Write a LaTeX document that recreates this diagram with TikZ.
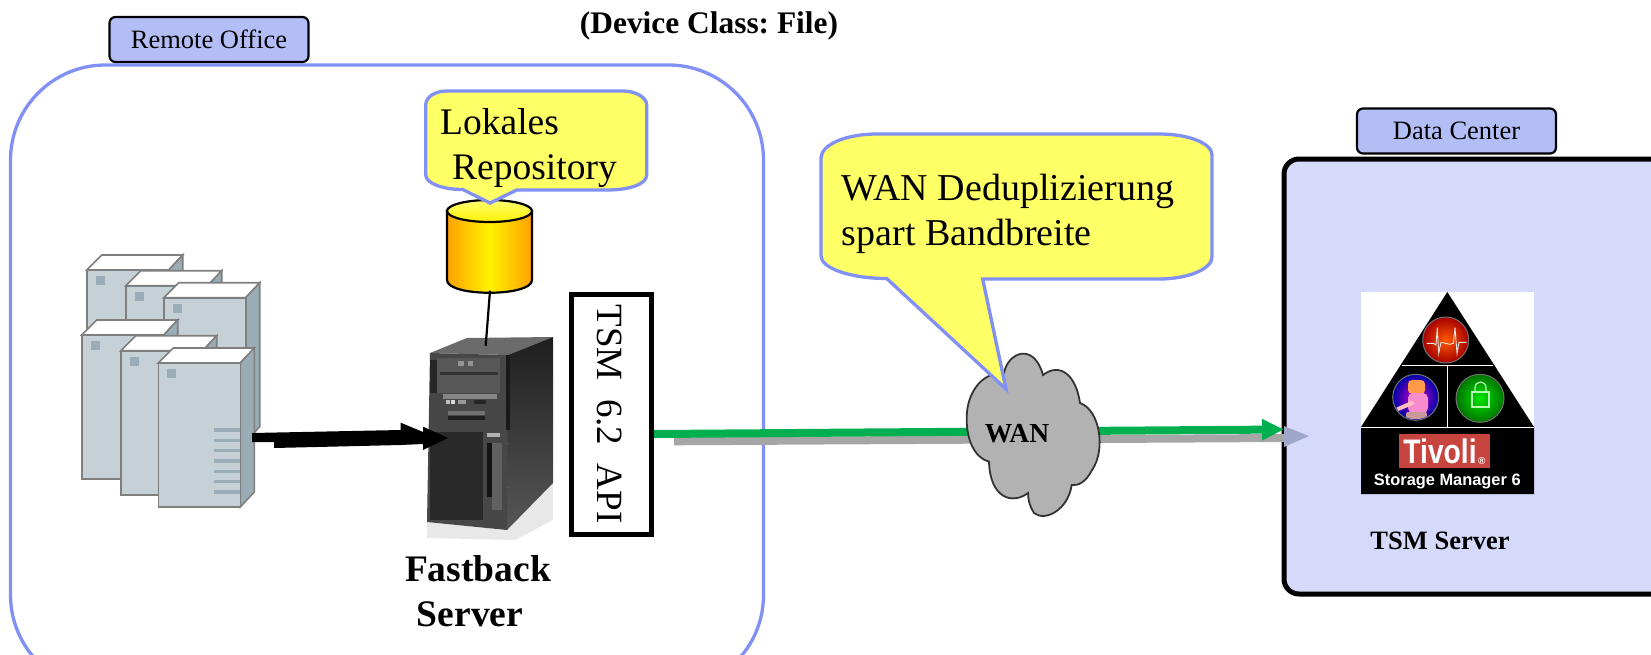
\documentclass[tikz,border=0pt]{standalone}
\usepackage{fontspec}
\setmainfont{Liberation Serif}
\newfontfamily\arialf{Liberation Sans}
\usetikzlibrary{arrows.meta,shadings}
\definecolor{bluel}{HTML}{8090F5}
\definecolor{labelb}{HTML}{B3BEF7}
\definecolor{panel}{HTML}{D5DAFA}
\definecolor{callout}{HTML}{FFFF66}
\definecolor{srvfront}{HTML}{C5D1D6}
\definecolor{srvside}{HTML}{9AADB6}
\definecolor{srvedge}{HTML}{7F7F7F}
\definecolor{wangreen}{HTML}{00B050}
\definecolor{cylor}{HTML}{FFA000}
\definecolor{cylye}{HTML}{FFF200}
\definecolor{shadowhead}{HTML}{9FA8C8}
\definecolor{tivred}{HTML}{C8443F}
\newcommand{\fs}[1]{\fontsize{#1}{#1}\selectfont}
\newcommand{\srvbox}[3]{% left, top, height
  \fill[white,draw=srvedge,line width=1.6] (#1,#2) -- ++(15,-15) -- ++(81,0) -- ++(-14,15) -- cycle;
  \fill[srvside,draw=srvedge,line width=1.6] (#1+82,#2) -- ++(14,-15) -- ++(0,#3) -- ++(-14,15) -- cycle;
  \fill[srvfront,draw=srvedge,line width=1.6] (#1,#2) rectangle ++(82,#3);
  \fill[srvside] (#1+9,#2+6) rectangle ++(9,9);
}
\tikzset{
  x=1pt,y=-1pt,
  officebox/.style={draw=bluel,line width=3.3,rounded corners=95},
  tag/.style={draw=black,line width=2.2,fill=labelb,rounded corners=6,minimum width=199,minimum height=45,inner sep=0,font=\fs{26.5}},
  balloon/.style={draw=bluel,line width=3.3,fill=callout,line join=miter},
  big/.style={font=\fs{37.5},inner sep=0,anchor=base west},
  bigbold/.style={font=\fs{37.5}\bfseries,inner sep=0,anchor=base},
  cloudtxt/.style={font=\fs{27.5}\bfseries,inner sep=0},
}
\begin{document}
\frenchspacing
\begin{tikzpicture}
\useasboundingbox (0,0) rectangle (1651,654);
\begin{scope}
\clip (0,0) rectangle (1651,654);
% panels
\draw[officebox] (10.5,65) rectangle (763.5,690);
\fill[panel,draw=black,line width=5,rounded corners=15] (1284,159) rectangle (1700,594);

% servers
\srvbox{86.7}{270}{144}
\srvbox{125.7}{285.7}{144}
\srvbox{163.7}{297.7}{144}
\srvbox{81.7}{335}{144}
\srvbox{120.7}{350.7}{144}
\srvbox{158.3}{363}{144}
\foreach \yy in {430,440.3,450.7,461,471.3,481.7,492}
  \fill[srvside] (214,\yy-1.6) rectangle (240.3,\yy+1.6);

% tower
\fill[black!9] (427,522) -- (507,530) -- (553,483) -- (553,520) -- (515,540) -- (427,538) -- cycle;
\fill[black!58] (430,353) -- (467,338) -- (553,337) -- (508,355) -- cycle;
\shade[top color=black!88,bottom color=black!66] (508,355) -- (553,337) -- (553,483) -- (507,530) -- cycle;
\fill[black!72] (430,353) -- (508,355) -- (507,530) -- (427,522) -- cycle;
\fill[black!90] (506,355) rectangle (510,430);
\fill[black!66] (437,358) rectangle (500,393);
\fill[black!85] (430,360) rectangle (437,393);
\fill[black!80] (440,372) rectangle (498,375);
\fill[black!42] (458,361) rectangle (464,366);
\fill[black!42] (468,361) rectangle (473,366);
\fill[black!48] (443,394) rectangle (497,399);
\fill[black!25] (446,400) rectangle (450,404);
\fill[black!15] (451,400) rectangle (455,404);
\fill[black!40] (458,400) rectangle (466,404);
\fill[black!85] (474,400) rectangle (486,404);
\fill[black!55] (448,411) rectangle (485,415);
\fill[black!88] (448,416) rectangle (485,420);
\fill[black!84] (430,432) rectangle (483,520);
\fill[black!92] (487,443) rectangle (492,497);
\fill[black!30] (487,433) rectangle (500,437);
\fill[black!62] (492,443) rectangle (502,510);

% cylinder
\draw[line width=2.2,left color=cylor,right color=cylor,middle color=cylye]
  (447,211) -- (447,280) .. controls (447,297) and (532,297) .. (532,280) -- (532,211) -- cycle;
\draw[line width=2.2,top color=yellow!55!white,bottom color=yellow!90!orange] (489.5,211) ellipse (42.5 and 11);
\coordinate (cylbot) at (490,290.7);
\coordinate (towertop) at (485.7,345.7);
\draw[line width=2.2] (cylbot) -- (towertop);

% balloon on the cylinder
\path[balloon] (462.7,189.5) -- (490,203) -- (516.7,190) -- (606.7,190)
  .. controls (630,190) and (646.7,184) .. (646.7,175) -- (646.7,105)
  .. controls (646.7,97) and (635,91) .. (623,91) -- (446.7,91)
  .. controls (435,91) and (425.7,97) .. (425.7,105) -- (425.7,175)
  .. controls (425.7,183) and (442,189.5) .. (462.7,189.5) -- cycle;

% connectors
\coordinate (shadowfrom) at (674,441.3);
\coordinate (shadowto) at (1284,438);
\draw[line width=8,draw=black!35] (shadowfrom) -- (shadowto);
\fill[shadowhead] (1284,426) -- (1309,436) -- (1284,447) -- cycle;
\node[draw=black,line width=5,fill=white,minimum width=80,minimum height=240,inner sep=0] (api) at (611.5,414.5) {};
\node[rotate=-90,font=\fs{37},inner sep=0] (apitxt) at (609,414) {TSM\ \ 6.2\ \ API};
\coordinate (dcleft) at (1284,429.5);
\draw[line width=8,draw=wangreen,-{Triangle[length=22pt,width=20pt]}] (api.east |- 0,434) -- (dcleft);

% cloud
\path[fill=black!30,draw=black!80,line width=1.8] (1004,373)
  .. controls (1008,352) and (1034,342) .. (1043,375)
  .. controls (1060,362) and (1076,375) .. (1080,403)
  .. controls (1100,410) and (1106,450) .. (1092,470)
  .. controls (1086,482) and (1078,486) .. (1071.7,485)
  .. controls (1068,510) and (1045,522) .. (1034,513)
  .. controls (1030,507) and (1028,500) .. (1028,493)
  .. controls (1012,505) and (990,498) .. (989,461.7)
  .. controls (975,458) and (966,440) .. (966.7,416.7)
  .. controls (967,395) and (980,372) .. (1004,373) -- cycle;
\node[cloudtxt] (wan) at (1017,434) {WAN};

% balloon on the cloud
\path[balloon] (886.7,278.5) -- (1006,389) -- (982.7,279) -- (1159,279)
  .. controls (1188,279) and (1212,269) .. (1212,257) -- (1212,155)
  .. controls (1212,143) and (1188,134) .. (1159,134) -- (877,134)
  .. controls (845,134) and (821,145) .. (821,158) -- (821,256)
  .. controls (821,268) and (850,278.5) .. (886.7,278.5) -- cycle;

% black arrow
\coordinate (arrowfrom) at (252,437.5);
\coordinate (arrowto) at (448,438);
\fill[black] (252,433) -- (400.7,430) -- (400.7,422.7) -- (423,432) -- (423,426.7) -- (448,438) -- (423,450) -- (423,444) -- (400.7,445) -- (274,448) -- (274,442) -- (252,442) -- cycle;

% logo
\fill[white] (1361,292) rectangle (1534,428);
\fill[black] (1447.3,292) -- (1534,427) -- (1534,494) -- (1361,494) -- (1361,427) -- cycle;
\draw[white,line width=1.2] (1402,365.7) -- (1493,365.7) (1361,427.3) -- (1534,427.3) (1447.3,365.7) -- (1447.3,427.3);
% red emblem
\shade[inner color=orange!70!red,outer color=red!65!black,draw=black!55,line width=1] (1445.7,340) circle (23);
\draw[white!90!black,line width=.9] (1426.7,343.3) -- (1433.3,343.3) -- (1436,345) -- (1437.3,327.7) -- (1438.7,353.3) -- (1441,342.3) -- (1450,344.3) -- (1453.3,343.3) -- (1455,327.7) -- (1457,353.3) -- (1459,342.3) -- (1466.7,342.3);
% purple emblem
\shade[inner color=magenta!60!violet,outer color=blue!65!black,draw=black!55,line width=1] (1415.7,397.3) circle (23);
\begin{scope}
\clip (1415.7,397.3) circle (22);
\fill[orange!60!pink,rounded corners=4] (1408,380) rectangle (1425,394);
\fill[magenta!45!white,rounded corners=5] (1408,393) rectangle (1428,413);
\draw[pink,line width=4,line cap=round] (1398,409) -- (1412,403);
\fill[pink!80!black,rounded corners=2] (1406,412) rectangle (1427,419);
\end{scope}
% green emblem
\shade[inner color=green!90!black,outer color=green!45!black,draw=black!55,line width=1] (1480,398.3) circle (24);
\draw[green!30!white,line width=1.2] (1472,392) rectangle (1489,407);
\draw[green!30!white,line width=1.2] (1475,392) -- (1475,388) .. controls (1475,380) and (1486,380) .. (1486,388) -- (1486,392);
% brand plate
\node[fill=tivred,minimum width=90.7,minimum height=33.7,inner sep=0] (tivbox) at (1444.6,450.8) {};
\node[text=white,draw=white,line width=.5,draw opacity=0,font=\arialf\fs{34}\bfseries,inner sep=0] (tivoli) at (1440,451) {\scalebox{.83}[1]{Tivoli}};
\node[text=white,font=\arialf\fs{10}\bfseries,inner sep=0] (tivreg) at (1481.7,461.5) {®};
\node[text=white,font=\arialf\fs{16.4}\bfseries,inner sep=0] (tsmsm) at (1447.3,481.7) {Storage Manager 6};
\end{scope}

% labels
\node[tag] (remote) at (209,39.5) {Remote Office};
\node[tag] (dc) at (1456.5,131) {Data Center};
\node[font=\fs{31.4}\bfseries,inner sep=0] (title) at (709,25.5) {(Device Class: File)};
\node[big] (lok) at (440,134) {Lokales};
\node[big] (rep) at (452,179) {Repository};
\node[big,font=\fs{38}] (wd) at (841.5,200) {WAN Deduplizierung};
\node[big,font=\fs{38}] (sb) at (841.5,245) {spart Bandbreite};
\node[bigbold] (fb) at (478,581) {Fastback};
\node[bigbold] (srv) at (470,626) {Server};
\node[font=\fs{26.5}\bfseries,inner sep=0] (tsms) at (1440,541) {TSM Server};
\end{tikzpicture}
\end{document}
